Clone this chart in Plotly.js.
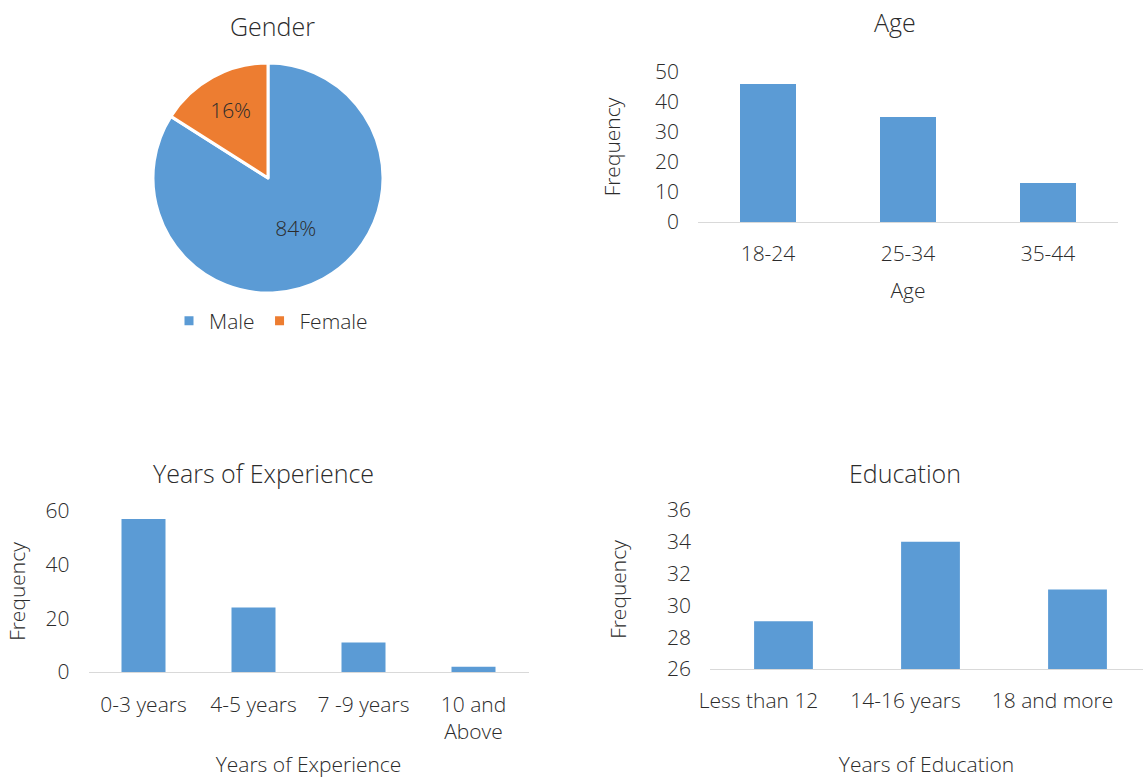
<!DOCTYPE html>
<html><head><meta charset="utf-8">
<script src="https://cdn.plot.ly/plotly-3.0.1.min.js"></script>
<style>html,body{margin:0;padding:0;background:#fff;}#chart{width:1143px;height:778px;}</style>
</head><body><div id="chart"></div>
<script>
const genderLabels = ['Male', 'Female'];
const genderValues = [84, 16];
const ageCategories = ['18-24', '25-34', '35-44'];
const ageValues = [46, 35, 13];
const expCategories = ['0-3 years', '4-5 years', '7 -9 years', '10 and<br>Above'];
const expValues = [57, 24, 11, 2];
const eduCategories = ['Less than 12', '14-16 years', '18 and more'];
const eduValues = [29, 34, 31];

const BLUE = '#5B9BD5', ORANGE = '#ED7D31', TXT = '#2b2b2b', AX = '#D9D9D9';
const FONT = 'Open Sans, sans-serif';
const WT = 300;
const W = 1143, H = 778;
const px = v => v / W, py = v => 1 - v / H;

const traces = [
  { type: 'pie', labels: genderLabels, values: genderValues, sort: false, direction: 'clockwise', rotation: 0,
    marker: { colors: [BLUE, ORANGE], line: { color: '#fff', width: 3 } },
    textinfo: 'percent', textposition: 'inside', insidetextorientation: 'horizontal',
    textfont: { color: TXT, size: 21, family: FONT, weight: WT },
    domain: { x: [px(153), px(383)], y: [py(293), py(63)] }, hoverinfo: 'label+percent' },
  { type: 'bar', x: ageCategories, y: ageValues, xaxis: 'x', yaxis: 'y', marker: { color: BLUE }, showlegend: false },
  { type: 'bar', x: expCategories, y: expValues, xaxis: 'x2', yaxis: 'y2', marker: { color: BLUE }, showlegend: false },
  { type: 'bar', x: eduCategories, y: eduValues, xaxis: 'x3', yaxis: 'y3', marker: { color: BLUE }, showlegend: false }
];

const tickFont = { family: FONT, size: 21, color: TXT, weight: WT };
const titleFont = { family: FONT, size: 21, color: TXT, weight: WT };
function xa(domain, title, standoff, anchor, labelStandoff, range) {
  const o = { domain: domain, anchor: anchor, type: 'category', showline: true, linecolor: AX, linewidth: 1.3,
    showgrid: false, zeroline: false, ticks: '', tickfont: tickFont, ticklabelstandoff: labelStandoff,
    title: { text: title, font: titleFont, standoff: standoff }, fixedrange: true };
  if (range) o.range = range;
  return o;
}
function ya(domain, range, dtick, anchor, standoff) {
  return { domain: domain, range: range, dtick: dtick, showline: false, showgrid: false, zeroline: false,
    ticks: '', tickfont: tickFont, ticklabelstandoff: 18, anchor: anchor,
    title: { text: 'Frequency', font: titleFont, standoff: standoff }, fixedrange: true };
}
const annFont = { family: FONT, size: 25, color: TXT, weight: WT };
function ann(text, x, y) {
  return { text: text, x: px(x), y: py(y), xref: 'paper', yref: 'paper', xanchor: 'center', yanchor: 'middle', showarrow: false, font: annFont };
}

const xEdu = xa([px(710), 1], 'Years of Education', 50, 'y3', 12, [-0.5, 2.4456]);
xEdu.ticklabelshift = -25;

const layout = {
  width: W, height: H, margin: { l: 0, r: 0, t: 0, b: 0 }, paper_bgcolor: '#fff', plot_bgcolor: '#fff',
  font: { family: FONT, color: TXT, weight: WT }, bargap: 0.6,
  legend: { orientation: 'h', x: px(271), xanchor: 'center', y: py(321), yanchor: 'middle',
    font: { family: FONT, size: 21, color: TXT, weight: WT }, itemwidth: 30 },
  xaxis: xa([px(698), px(1118)], 'Age', 17, 'y', 12),
  yaxis: ya([py(222), py(72)], [0, 50], 10, 'x', 28),
  xaxis2: xa([px(88.5), px(528.5)], 'Years of Experience', 21, 'y2', 13),
  yaxis2: ya([py(672), py(511)], [0, 60], 20, 'x2', 14),
  xaxis3: xEdu,
  yaxis3: ya([py(669), py(510)], [26, 36], 2, 'x3', 34),
  annotations: [
    ann('Gender', 272, 26),
    ann('Age', 895, 22),
    ann('Years of Experience', 263, 473),
    ann('Education', 905, 473)
  ]
};
Plotly.newPlot('chart', traces, layout, { displayModeBar: false, staticPlot: true });
</script></body></html>
